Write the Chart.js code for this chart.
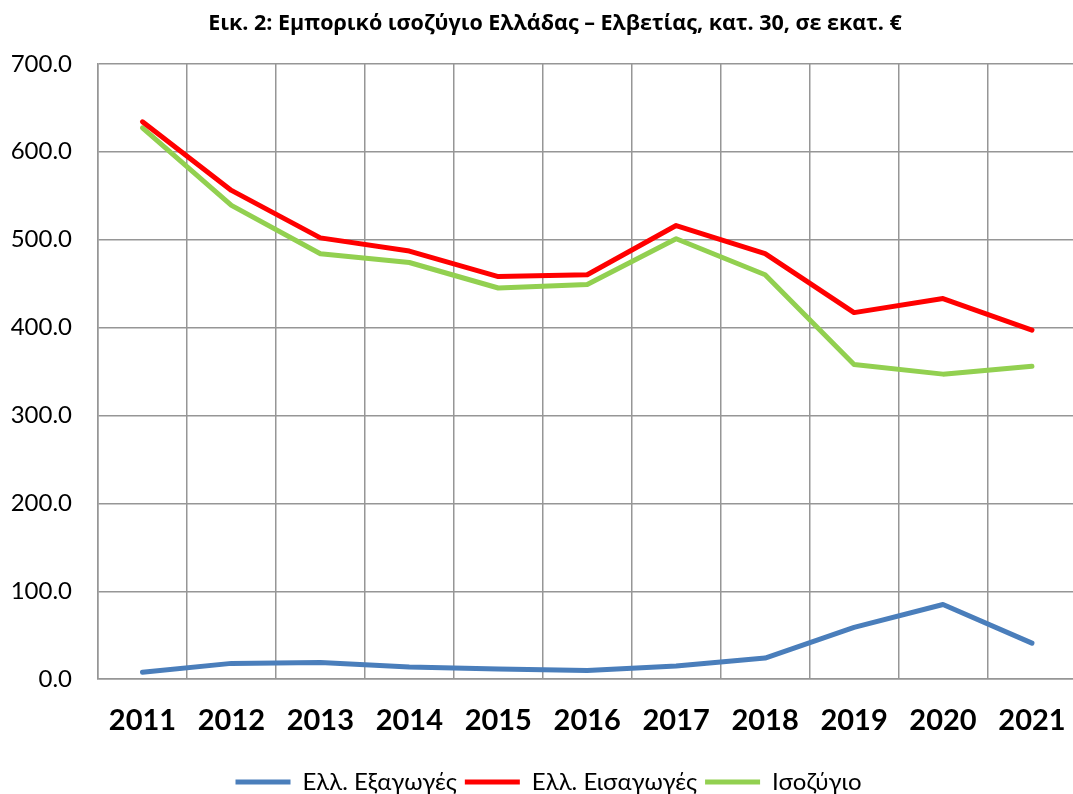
<!DOCTYPE html>
<html>
<head>
<meta charset="utf-8">
<script src="https://cdn.jsdelivr.net/npm/chart.js@4"></script>
<style>
    html, body { margin: 0; padding: 0; background: #fff; overflow: hidden; }
    #wrap { width: 1090px; height: 794px; }
</style>
</head>
<body>
<div id="wrap"><canvas id="chart" width="1090" height="794"></canvas></div>
<script>
// data (million €)
const years = ["2011", "2012", "2013", "2014", "2015", "2016", "2017", "2018", "2019", "2020", "2021"];
const exportsGR = [8, 18, 19, 14, 11.5, 10, 15, 24, 59, 85, 41];
const importsGR = [634, 556, 502, 487, 458, 460, 516, 484, 417, 433, 397];
const balance = [627, 539, 484, 474, 445, 449, 501, 460, 358, 347, 356];
const yTicks = [0, 100, 200, 300, 400, 500, 600, 700];

const fontFam = "Lato, 'Open Sans', sans-serif";

function lineSet(label, data, color) {
    return {
        label: label,
        data: data,
        borderColor: color,
        backgroundColor: color,
        borderWidth: 5,
        borderCapStyle: "round",
        borderJoinStyle: "round",
        pointRadius: 0,
        tension: 0,
        fill: false,
    };
}

// title and legend in the original sit a bit right of the canvas middle
const shiftBoxes = {
    id: "shiftBoxes",
    afterLayout: function (chart) {
        if (chart.titleBlock) chart.titleBlock.left = 29;
        if (chart.legend) chart.legend.left = 16;
    },
};

const ctx = document.getElementById("chart").getContext("2d");
new Chart(ctx, {
    type: "line",
    data: {
        labels: years,
        datasets: [
            lineSet("Ελλ. Εξαγωγές", exportsGR, "#4A7EBB"),
            lineSet("Ελλ. Εισαγωγές", importsGR, "#FF0000"),
            lineSet("Ισοζύγιο", balance, "#92D050"),
        ],
    },
    plugins: [shiftBoxes],
    options: {
        responsive: false,
        animation: false,
        layout: { padding: { left: 0, right: 9, top: 0, bottom: -10 } },
        plugins: {
            title: {
                display: true,
                text: "Εικ. 2: Εμπορικό ισοζύγιο Ελλάδας – Ελβετίας, κατ. 30, σε εκατ. €",
                color: "#000",
                font: { family: "'Open Sans', sans-serif", size: 21.5, weight: "bold" },
                padding: { top: 11, bottom: 27 },
            },
            legend: {
                display: true,
                position: "bottom",
                labels: {
                    usePointStyle: true,
                    pointStyle: "line",
                    pointStyleWidth: 55,
                    color: "#000",
                    font: { family: fontFam, size: 24 },
                    padding: 8,
                },
            },
            tooltip: { enabled: false },
        },
        scales: {
            x: {
                offset: true,
                grid: { color: "#969696", lineWidth: 1.5, offset: true, drawTicks: false },
                border: { color: "#969696", width: 1.5 },
                ticks: {
                    color: "#000",
                    font: { family: fontFam, size: 29, weight: "bold" },
                    padding: 24,
                },
            },
            y: {
                min: 0,
                max: 700,
                afterFit: function (scale) { scale.width = 98; },
                afterBuildTicks: function (scale) {
                    scale.ticks = yTicks.map(function (v) { return { value: v }; });
                },
                grid: { color: "#969696", lineWidth: 1.5, drawTicks: false },
                border: { color: "#969696", width: 1.5 },
                ticks: {
                    color: "#000",
                    font: { family: fontFam, size: 24 },
                    padding: 26,
                    callback: function (v) { return Number(v).toFixed(1); },
                },
            },
        },
    },
});
</script>
</body>
</html>
